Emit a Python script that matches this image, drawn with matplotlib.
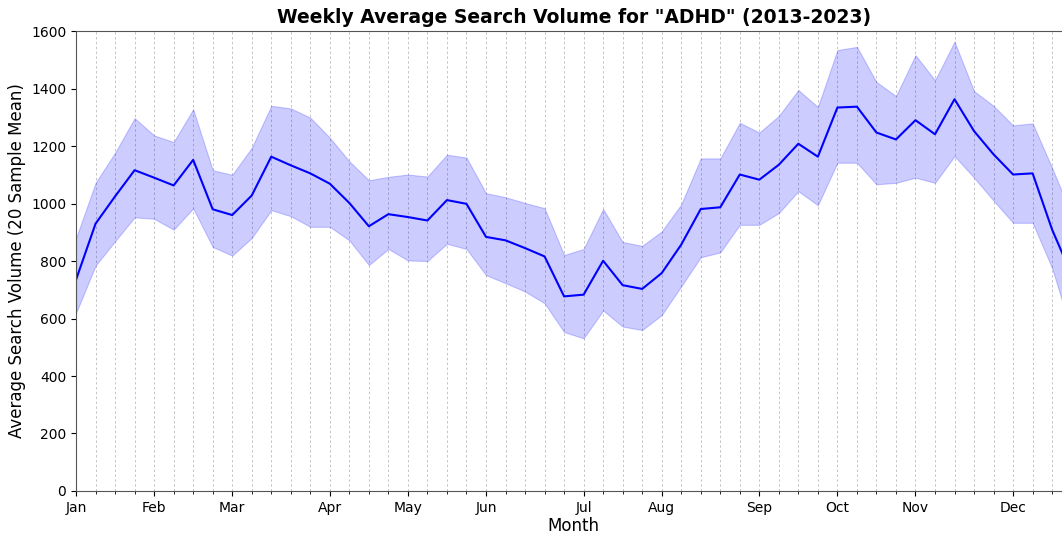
import matplotlib
matplotlib.use("Agg")
import matplotlib.pyplot as plt
from matplotlib.ticker import MultipleLocator
import numpy as np

weeks = list(range(1, 53))
mean_volume = [735, 930, 1025, 1116, 1090, 1063, 1152, 980, 960, 1028,
               1163, 1133, 1105, 1069, 1002, 921, 963, 953, 941, 1012,
               999, 884, 872, 845, 816, 677, 683, 801, 716, 703,
               758, 857, 981, 987, 1101, 1083, 1135, 1208, 1163, 1334,
               1337, 1247, 1223, 1290, 1241, 1363, 1252, 1171, 1101, 1105,
               909, 752]
upper_volume = [880, 1072, 1177, 1297, 1237, 1214, 1328, 1116, 1100, 1194,
                1340, 1331, 1299, 1229, 1147, 1081, 1093, 1101, 1094, 1170,
                1160, 1036, 1022, 1002, 984, 821, 842, 981, 866, 853,
                903, 997, 1157, 1157, 1281, 1247, 1305, 1395, 1336, 1534,
                1545, 1423, 1374, 1516, 1429, 1563, 1391, 1340, 1272, 1279,
                1124, 960]
lower_volume = [619, 784, 869, 952, 947, 909, 983, 849, 819, 880,
                977, 956, 919, 919, 872, 786, 842, 802, 800, 860,
                842, 751, 723, 694, 653, 553, 531, 628, 572, 560,
                612, 712, 813, 830, 926, 926, 967, 1043, 994, 1142,
                1142, 1067, 1072, 1090, 1072, 1165, 1090, 1010, 933, 933,
                775, 553]
month_weeks = [1, 5, 9, 14, 18, 22, 27, 31, 36, 40, 44, 49]
month_labels = ["Jan", "Feb", "Mar", "Apr", "May", "Jun",
                "Jul", "Aug", "Sep", "Oct", "Nov", "Dec"]

fig = plt.figure(figsize=(10.62, 5.36), dpi=100)
ax = fig.add_axes([0.0716, 0.084, 0.9375, 0.858])

ax.fill_between(weeks, lower_volume, upper_volume, color="blue", alpha=0.2, linewidth=0.8)
ax.plot(weeks, mean_volume, color="blue", linewidth=1.5)

ax.set_xlim(1, 52)
ax.set_ylim(0, 1600)
ax.set_xticks(month_weeks)
ax.set_xticklabels(month_labels)
ax.xaxis.set_minor_locator(MultipleLocator(1))
ax.grid(axis="x", which="both", linestyle=(0, (2.5, 2.5)), color="#c4c4c4", linewidth=0.7)
ax.set_axisbelow(True)
ax.tick_params(axis="both", labelsize=10)
ax.tick_params(axis="x", which="minor", length=2)
for s in ax.spines.values():
    s.set_color("#555555")

ax.set_xlabel("Month", fontsize=12, labelpad=2)
ax.set_ylabel("Average Search Volume (20 Sample Mean)", fontsize=12)
ax.set_title('Weekly Average Search Volume for "ADHD" (2013-2023)',
             fontsize=13.5, fontweight="bold", pad=6)

fig.savefig("out.png", dpi=100)
